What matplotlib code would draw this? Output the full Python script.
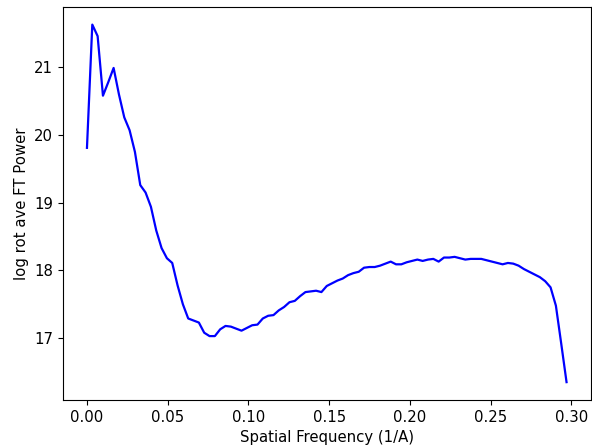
import matplotlib
matplotlib.use('Agg')
import matplotlib.pyplot as plt

# rotationally averaged power spectrum
freq = [0.0, 0.0033, 0.0066, 0.0099, 0.0132, 0.0165, 0.0198, 0.0231, 0.0264, 0.0297,
        0.033, 0.0363, 0.0396, 0.0429, 0.0462, 0.0495, 0.0528, 0.0561, 0.0594, 0.0627,
        0.066, 0.0693, 0.0726, 0.0759, 0.0792, 0.0825, 0.0858, 0.0891, 0.0924, 0.0957,
        0.099, 0.1023, 0.1056, 0.1089, 0.1122, 0.1155, 0.1188, 0.1221, 0.1254, 0.1287,
        0.132, 0.1353, 0.1386, 0.1419, 0.1452, 0.1485, 0.1518, 0.1551, 0.1584, 0.1617,
        0.165, 0.1683, 0.1716, 0.1749, 0.1782, 0.1815, 0.1848, 0.1881, 0.1914, 0.1947,
        0.198, 0.2013, 0.2046, 0.2079, 0.2112, 0.2145, 0.2178, 0.2211, 0.2244, 0.2277,
        0.231, 0.2343, 0.2376, 0.2409, 0.2442, 0.2475, 0.2508, 0.2541, 0.2574, 0.2607,
        0.264, 0.2673, 0.2706, 0.2739, 0.2772, 0.2805, 0.2838, 0.2871, 0.2904, 0.2937,
        0.297]
power = [19.81, 21.63, 21.46, 20.58, 20.78, 20.99, 20.60, 20.26, 20.07, 19.75,
         19.26, 19.15, 18.94, 18.59, 18.33, 18.18, 18.11, 17.78, 17.50, 17.29,
         17.26, 17.23, 17.08, 17.03, 17.03, 17.13, 17.18, 17.17, 17.14, 17.11,
         17.15, 17.19, 17.20, 17.29, 17.33, 17.34, 17.41, 17.46, 17.53, 17.55,
         17.62, 17.68, 17.69, 17.70, 17.68, 17.77, 17.81, 17.85, 17.88, 17.93,
         17.96, 17.98, 18.04, 18.05, 18.05, 18.07, 18.10, 18.13, 18.09, 18.09,
         18.12, 18.14, 18.16, 18.14, 18.16, 18.17, 18.13, 18.19, 18.19, 18.20,
         18.18, 18.16, 18.17, 18.17, 18.17, 18.15, 18.13, 18.11, 18.09, 18.11,
         18.10, 18.07, 18.02, 17.98, 17.94, 17.90, 17.84, 17.75, 17.48, 16.92,
         16.35]

plt.rcParams['font.size'] = 10.7

fig = plt.figure(figsize=(5.92, 4.48), dpi=100)
ax = fig.add_axes([0.1064, 0.1071, 0.8911, 0.8779])
ax.plot(freq, power, color='b', linewidth=1.6)
ax.set_xlabel('Spatial Frequency (1/A)')
ax.set_ylabel('log rot ave FT Power')

fig.savefig('out.png', dpi=100)
plt.close(fig)
